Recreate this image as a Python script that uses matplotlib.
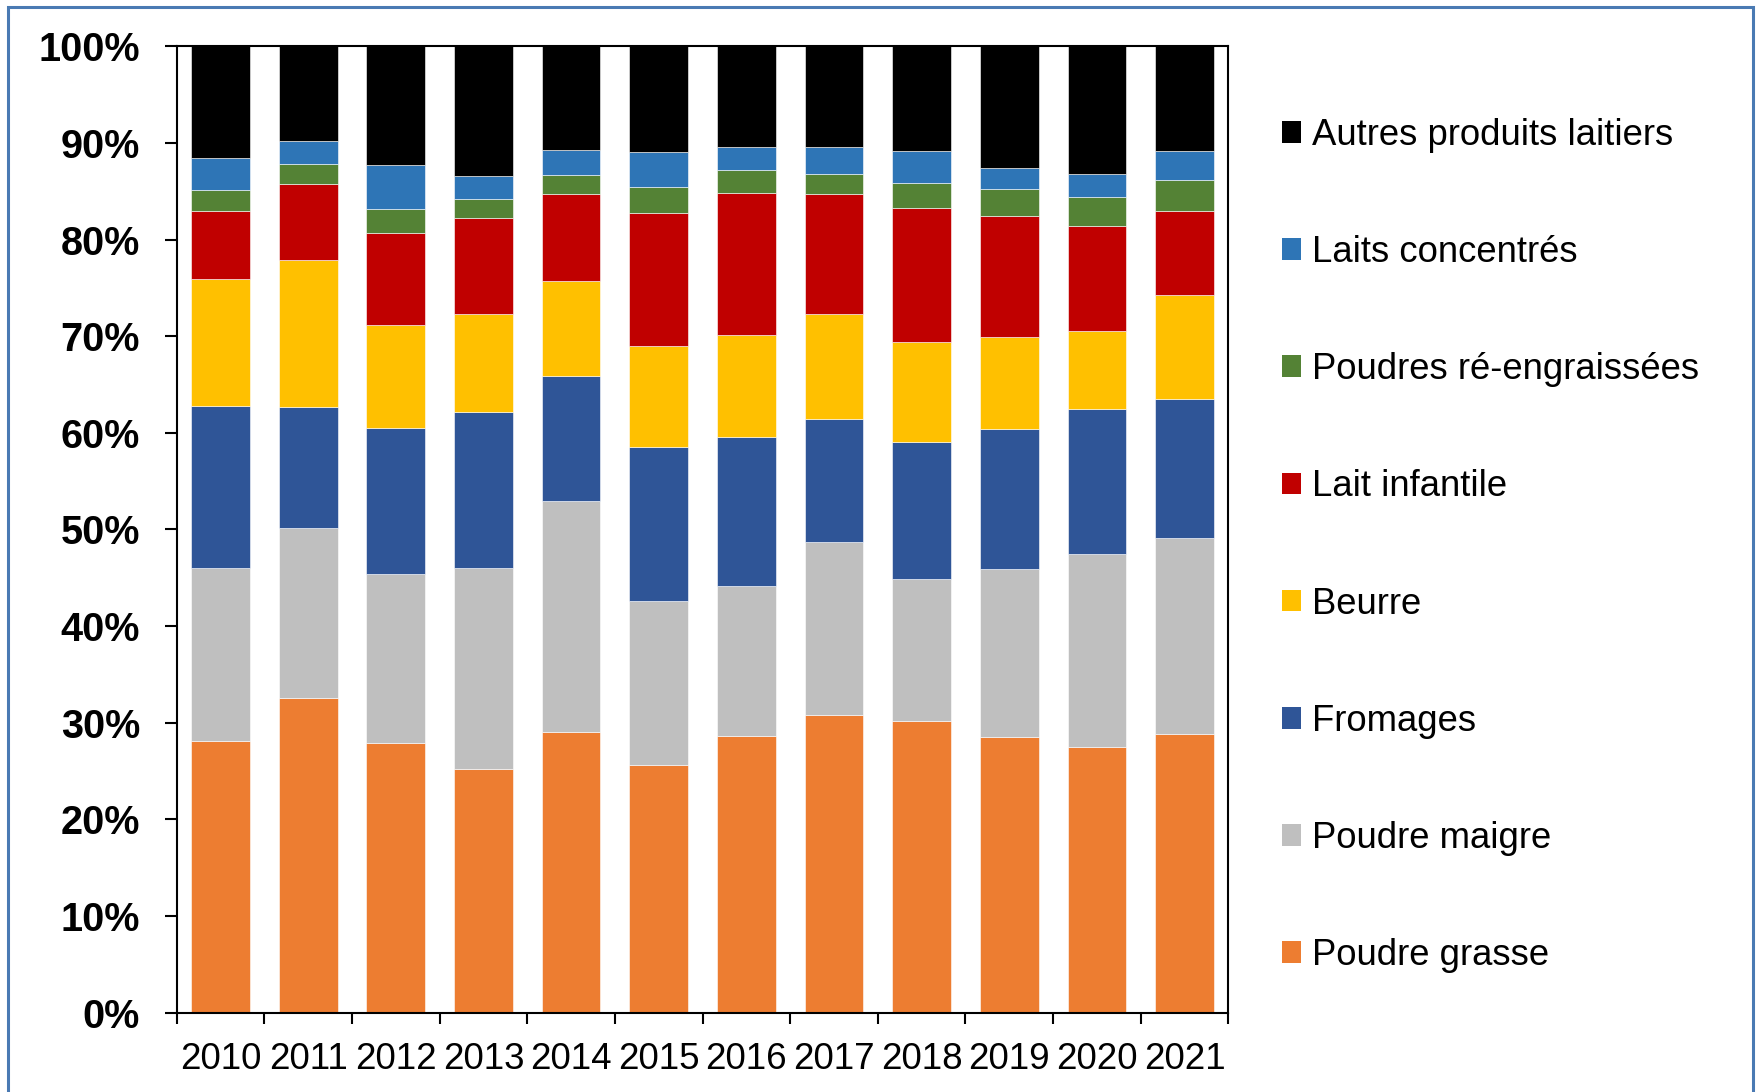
import matplotlib
matplotlib.use("Agg")
import matplotlib.pyplot as plt
import numpy as np
from matplotlib.patches import Rectangle, Patch

plt.rcParams['font.family'] = ['Liberation Sans', 'DejaVu Sans']

years = ['2010', '2011', '2012', '2013', '2014', '2015', '2016', '2017', '2018', '2019', '2020', '2021']

series_names = ['Poudre grasse', 'Poudre maigre', 'Fromages', 'Beurre', 'Lait infantile',
                'Poudres ré-engraissées', 'Laits concentrés', 'Autres produits laitiers']

poudre_grasse = [28.07, 32.55, 27.89, 25.24, 29.04, 25.64, 28.61, 30.76, 30.19, 28.50, 27.50, 28.79]
poudre_maigre = [17.91, 17.55, 17.53, 20.74, 23.95, 16.94, 15.55, 17.95, 14.69, 17.38, 19.95, 20.28]
fromages = [16.82, 12.57, 15.04, 16.14, 12.86, 15.95, 15.37, 12.72, 14.20, 14.54, 15.01, 14.40]
beurre = [13.15, 15.21, 10.66, 10.20, 9.86, 10.45, 10.56, 10.89, 10.32, 9.46, 8.07, 10.76]
lait_infantile = [6.97, 7.84, 9.56, 9.91, 9.00, 13.80, 14.73, 12.39, 13.83, 12.59, 10.90, 8.69]
poudres_re = [2.24, 2.13, 2.45, 2.00, 2.00, 2.69, 2.35, 2.10, 2.59, 2.76, 2.94, 3.24]
laits_conc = [3.28, 2.35, 4.59, 2.38, 2.59, 3.59, 2.38, 2.74, 3.34, 2.17, 2.44, 3.03]
autres = [11.56, 9.80, 12.28, 13.39, 10.70, 10.94, 10.45, 10.45, 10.84, 12.60, 13.19, 10.81]

colors = ['#ED7D31', '#BFBFBF', '#2F5597', '#FFC000', '#C00000', '#548235', '#2E75B6', '#000000']

data = [poudre_grasse, poudre_maigre, fromages, beurre, lait_infantile, poudres_re, laits_conc, autres]

fig = plt.figure(figsize=(17.59, 10.92), dpi=100)
ax = fig.add_axes([0.1005, 0.0728, 0.5978, 0.8848])

x = np.arange(len(years))
bottom = np.zeros(len(years))
handles = []
for vals, name, col in zip(data, series_names, colors):
    v = np.array(vals)
    ax.bar(x, v, bottom=bottom, width=0.67, color=col, edgecolor='white', linewidth=0.4, label=name)
    handles.append(Patch(facecolor=col, edgecolor='none', label=name))
    bottom += v

ax.set_xlim(-0.5, len(years) - 0.5)
ax.set_ylim(0, 100)

ax.set_yticks(np.arange(0, 101, 10))
ax.set_yticklabels([f'{v}%' for v in range(0, 101, 10)], fontsize=28.5, fontweight='bold')
ax.tick_params(axis='y', direction='out', length=8.5, width=1.5, pad=18)

ax.set_xticks(x)
ax.set_xticklabels(years, fontsize=26.5)
ax.set_xticks(np.arange(-0.5, len(years), 1.0), minor=True)
ax.tick_params(axis='x', which='major', length=0, pad=21)
ax.tick_params(axis='x', which='minor', direction='out', length=8, width=1.5)

for s in ax.spines.values():
    s.set_linewidth(1.5)
    s.set_color('black')

leg = fig.legend(handles[::-1], [h.get_label() for h in handles[::-1]],
                 loc='center left', bbox_to_anchor=(0.7288, 0.5005),
                 frameon=False, fontsize=26.3, handlelength=0.53, handleheight=0.53,
                 handletextpad=0.3, labelspacing=2.25, borderpad=0, borderaxespad=0)

border = Rectangle((8 / 1759, -0.05), (1752.5 - 8) / 1759, 1.05 - 7 / 1092,
                   transform=fig.transFigure, fill=False, edgecolor='#4A7AB3',
                   linewidth=2.2, clip_on=False)
fig.patches.append(border)

fig.savefig('out.png', dpi=100)
